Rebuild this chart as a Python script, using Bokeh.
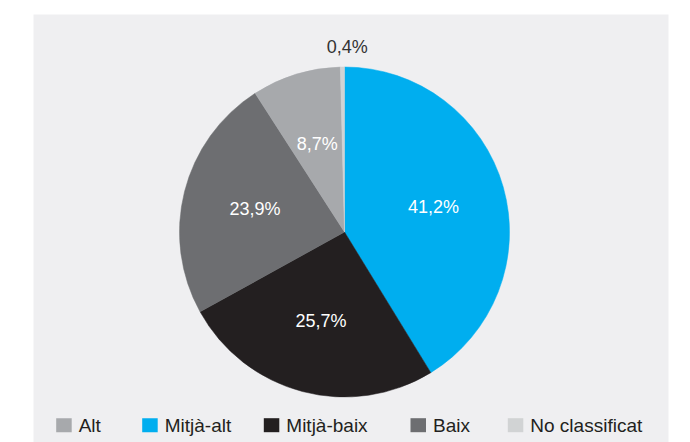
import numpy as np
from bokeh.plotting import figure
from bokeh.models import ColumnDataSource
from bokeh.core.properties import value
from bokeh.embed import file_html
from bokeh.resources import INLINE

# Data (pie drawn clockwise from 12 o'clock)
categories = ["Mitjà-alt", "Mitjà-baix", "Baix", "Alt", "No classificat"]
shares = [41.2, 25.7, 23.9, 8.7, 0.4]
labels = ["41,2%", "25,7%", "23,9%", "8,7%", "0,4%"]
colors = ["#00aeef", "#231f20", "#6d6e71", "#a7a9ac", "#d1d3d4"]

# Legend order
legend_items = ["Alt", "Mitjà-alt", "Mitjà-baix", "Baix", "No classificat"]

FONT = "Liberation Sans"
W, H = 690, 442
p = figure(width=W, height=H, x_range=(0, W), y_range=(0, H),
           x_axis_type=None, y_axis_type=None, toolbar_location=None,
           output_backend="svg", min_border=0)
p.grid.visible = False
p.outline_line_color = None
p.background_fill_color = "white"
p.border_fill_color = "white"

# panel
p.quad(left=[33], right=[668], bottom=[-5], top=[428], fill_color="#efeff1", line_color=None)

cx, cy, r = 344, 210.5, 165
vals = np.array(shares, dtype=float)
frac = vals / vals.sum()
cum = np.concatenate([[0], np.cumsum(frac)])
start = np.pi / 2 - cum[:-1] * 2 * np.pi
end = np.pi / 2 - cum[1:] * 2 * np.pi
mid = (start + end) / 2

src = ColumnDataSource(dict(start=start, end=end, color=colors, cat=categories))
p.wedge(x=cx, y=cy, radius=r, start_angle="start", end_angle="end", direction="clock",
        fill_color="color", line_color="color", line_width=0.5, source=src)

# inner labels
inner = frac > 0.02
lr = 0.56 * r
lx = cx + lr * np.cos(mid[inner])
ly = cy + lr * np.sin(mid[inner])
p.text(x=lx, y=ly, text=[l for l, k in zip(labels, inner) if k], text_color="white",
       text_font=value(FONT), text_font_size="18px", text_align="center", text_baseline="middle")

# outside label(s)
outer = ~inner
ox = cx + (r + 20) * np.cos(mid[outer]) + 5
oy = cy + (r + 20) * np.sin(mid[outer])
p.text(x=ox, y=oy, text=[l for l, k in zip(labels, outer) if k], text_color="#333333",
       text_font=value(FONT), text_font_size="18px", text_align="center", text_baseline="middle")

# legend
color_of = dict(zip(categories, colors))
leg_x = [55.7, 141.7, 263.3, 410, 507.3]
leg_y = 17.3
sq_w, sq_h = 15.5, 14
p.quad(left=leg_x, right=[x + sq_w for x in leg_x], bottom=leg_y - sq_h / 2, top=leg_y + sq_h / 2,
       fill_color=[color_of[c] for c in legend_items], line_color=None)
p.text(x=[x + sq_w + 7 for x in leg_x], y=leg_y, text=legend_items, text_color="#231f20",
       text_font=value(FONT), text_font_size="19px", text_align="left", text_baseline="middle")

open("out.html", "w").write(file_html(p, INLINE))
